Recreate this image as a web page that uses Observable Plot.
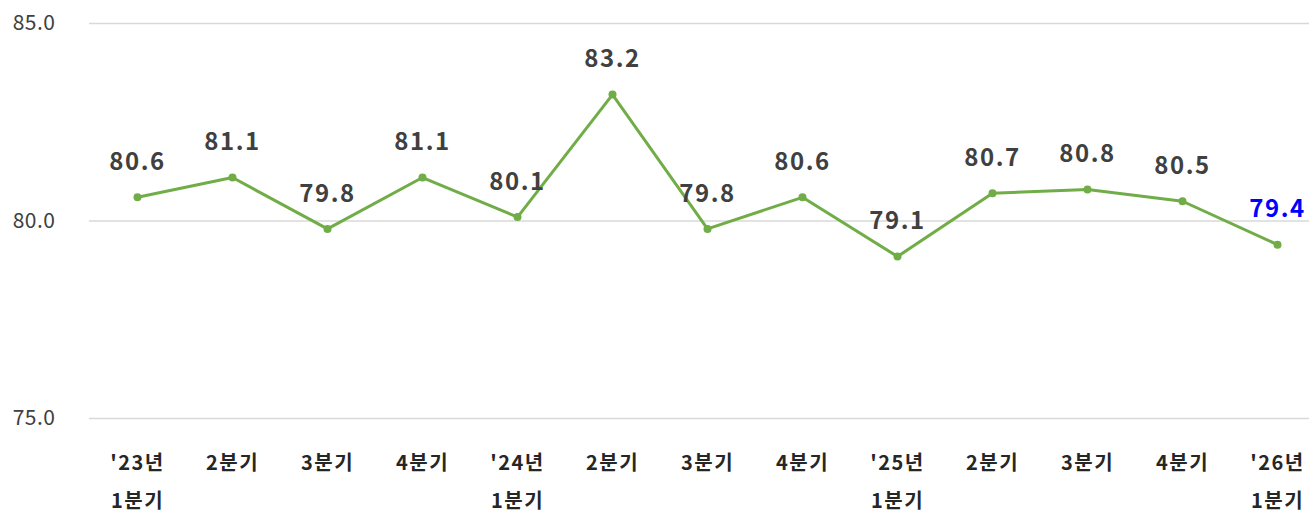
<!DOCTYPE html>
<html>
<head>
<meta charset="utf-8">
<script src="https://cdn.jsdelivr.net/npm/d3@7"></script>
<script src="https://cdn.jsdelivr.net/npm/@observablehq/plot@0.6"></script>
<style>
  html, body { margin: 0; padding: 0; background: #fff; }
  #chart { width: 1309px; height: 513px; }
  g[aria-label="text"] text { letter-spacing: 1.5px; }
  g[aria-label="x-axis tick label"] text { letter-spacing: 1.5px; }
  g[aria-label="y-axis tick label"] text { letter-spacing: 0.5px; }
</style>
</head>
<body>
<div id="chart"></div>
<script>
const categories = ["'23년\n1분기", "2분기", "3분기", "4분기", "'24년\n1분기", "2분기 ", "3분기 ", "4분기 ", "'25년\n1분기", "2분기  ", "3분기  ", "4분기  ", "'26년\n1분기"];
const values = [80.6, 81.1, 79.8, 81.1, 80.1, 83.2, 79.8, 80.6, 79.1, 80.7, 80.8, 80.5, 79.4];
const yTicks = [75, 80, 85];

const data = categories.map((c, i) => ({cat: c, value: values[i], last: i === categories.length - 1}));

const font = "'Noto Sans CJK KR', 'Noto Sans', sans-serif";

const chart = Plot.plot({
  width: 1309,
  height: 513,
  marginLeft: 89,
  marginRight: 0,
  marginTop: 23,
  marginBottom: 95,
  style: {fontFamily: font, background: "#fff"},
  x: {type: "point", domain: categories, range: [137, 1277], padding: 0, label: null},
  y: {domain: [75, 85], label: null},
  marks: [
    Plot.gridY(yTicks, {stroke: "#d9d9d9", strokeOpacity: 1, strokeWidth: 1.5}),
    Plot.axisY(yTicks, {tickSize: 0, tickPadding: 34, tickFormat: d3.format(".1f"), fontSize: 21, fill: "#404040", label: null}),
    Plot.axisX({tickSize: 0, tickPadding: 25, fontSize: 20, fontWeight: "bold", fill: "#262626", lineHeight: 1.9, tickFormat: d => d.trim(), label: null}),
    Plot.line(data, {x: "cat", y: "value", stroke: "#70ad47", strokeWidth: 3}),
    Plot.dot(data, {x: "cat", y: "value", fill: "#70ad47", r: 4}),
    Plot.text(data, {x: "cat", y: "value", text: d => d.value.toFixed(1), dy: -35, fontSize: 24, fontWeight: "bold",
      fill: d => d.last ? "#0000ff" : "#404040"})
  ]
});
document.getElementById("chart").appendChild(chart);
</script>
</body>
</html>
